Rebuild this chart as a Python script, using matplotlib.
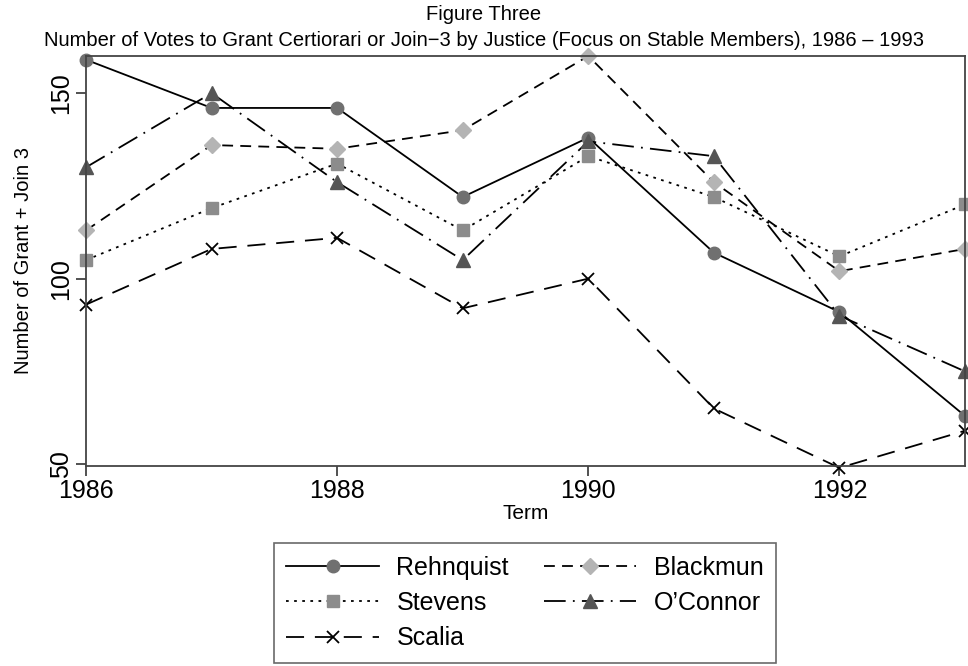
import matplotlib
matplotlib.use("Agg")
import matplotlib.pyplot as plt

plt.rcParams['font.family'] = ['Liberation Sans', 'DejaVu Sans']

terms = [1986, 1987, 1988, 1989, 1990, 1991, 1992, 1993]
rehnquist = [159, 146, 146, 122, 138, 107, 91, 63]
blackmun = [113, 136, 135, 140, 160, 126, 102, 108]
stevens = [105, 119, 131, 113, 133, 122, 106, 120]
oconnor = [130, 150, 126, 105, 137, 133, 90, 75]
scalia = [93, 108, 111, 92, 100, 65, 49, 59]

fig = plt.figure(figsize=(9.68, 6.66), dpi=100)
ax = fig.add_axes([86 / 968, 1 - 466 / 666, (965 - 86) / 968, (466 - 56) / 666])

# greyscale styles, one per justice
ln_r, = ax.plot(terms, rehnquist, color='black', lw=1.3, ls='-',
                marker='o', ms=9, mfc='#707070', mec='#707070', label='Rehnquist', clip_on=False)
ln_b, = ax.plot(terms, blackmun, color='black', lw=1.3, ls=(0, (6, 4)),
                marker='D', ms=8, mfc='#b4b4b4', mec='#b4b4b4', label='Blackmun', clip_on=False)
ln_s, = ax.plot(terms, stevens, color='black', lw=1.3, ls=(0, (1.5, 3)),
                marker='s', ms=8, mfc='#8c8c8c', mec='#8c8c8c', label='Stevens', clip_on=False)
ln_o, = ax.plot(terms, oconnor, color='black', lw=1.3, ls=(0, (12, 4, 1, 4)),
                marker='^', ms=10, mfc='#555555', mec='#555555', label='O\u2019Connor', clip_on=False)
ln_sc, = ax.plot(terms, scalia, color='black', lw=1.3, ls=(0, (10, 6)),
                 marker='x', ms=8, mew=1.3, mfc='black', mec='black', label='Scalia', clip_on=False)

ax.set_xlim(1986, 1993)
ax.set_ylim(49.5, 160)
ax.set_xticks([1986, 1988, 1990, 1992])
ax.set_yticks([50, 100, 150])
ax.tick_params(axis='both', direction='out', length=7, width=1.2, labelsize=18,
               color='#333333', pad=2)
for lab in ax.get_yticklabels():
    lab.set_rotation(90)
    lab.set_va('center')
for sp in ax.spines.values():
    sp.set_color('#444444')
    sp.set_linewidth(1.3)

ax.set_xlabel('Term', fontsize=15, labelpad=1)
ax.set_ylabel('Number of Grant + Join 3', fontsize=14.5, labelpad=12)

fig.text(0.5, 1 - 15 / 666, 'Figure Three', ha='center', va='center', fontsize=14.5)
fig.text(0.5, 1 - 41 / 666,
         'Number of Votes to Grant Certiorari or Join\u22123 by Justice (Focus on Stable Members), 1986 \u2013 1993',
         ha='center', va='center', fontsize=14.5)

# matplotlib fills legend columns first, so reorder to get row-wise layout
order = [ln_r, ln_s, ln_sc, ln_b, ln_o]
leg = fig.legend(order, [l.get_label() for l in order], ncol=2,
                 loc='center', bbox_to_anchor=(525 / 968, 1 - 603 / 666),
                 fontsize=18, frameon=True, fancybox=False, edgecolor='#444444',
                 handlelength=3.7, handletextpad=0.7, columnspacing=1.4,
                 labelspacing=0.45, borderpad=0.5)
leg.get_frame().set_linewidth(1.2)

fig.savefig('out.png', dpi=100)
